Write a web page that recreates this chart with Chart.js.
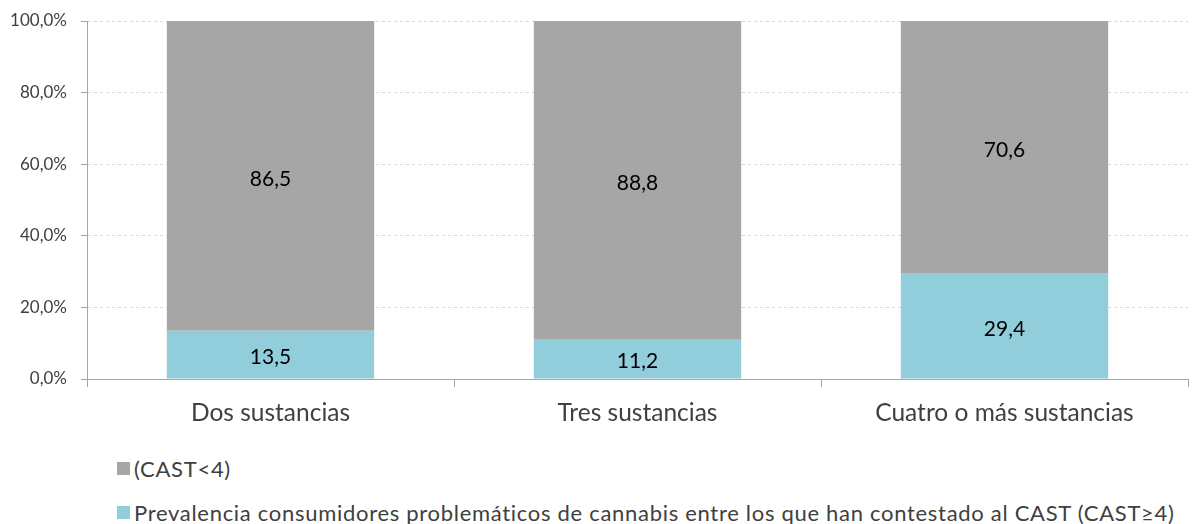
<!DOCTYPE html>
<html>
<head>
<meta charset="utf-8">
<script src="https://cdn.jsdelivr.net/npm/chart.js@4.4.1/dist/chart.umd.min.js"></script>
<style>
  html, body { margin: 0; padding: 0; background: #fff; }
  body { width: 1193px; height: 524px; overflow: hidden; font-family: Lato, sans-serif; }
  #wrap { position: relative; width: 1193px; height: 432px; }
  #legend { list-style: none; margin: 0; padding: 0; position: absolute; left: 117px; top: 455px; }
  #legend li { display: flex; align-items: center; height: 26px; margin-bottom: 18px; font-size: 22px; letter-spacing: 0.7px; color: #404040; white-space: nowrap; }
  #legend span.box { display: inline-block; width: 13px; height: 13px; margin-right: 4px; }
</style>
</head>
<body>
<div id="wrap"><canvas id="castChart"></canvas></div>
<ul id="legend"></ul>
<script>
// Categorías y valores (porcentajes)
const categorias = ['Dos sustancias', 'Tres sustancias', 'Cuatro o más sustancias'];
const problematicos = [13.5, 11.2, 29.4];   // CAST>=4
const noProblematicos = [86.5, 88.8, 70.6]; // CAST<4
const yTicks = [0, 20, 40, 60, 80, 100];

const serieProb = 'Prevalencia consumidores problemáticos de cannabis entre los que han contestado al CAST (CAST≥4)';
const serieNoProb = '(CAST<4)';

// Etiquetas de datos dentro de cada segmento
const dataLabels = {
  id: 'dataLabels',
  afterDatasetsDraw(chart) {
    const ctx = chart.ctx;
    ctx.save();
    ctx.font = '21px Lato';
    ctx.fillStyle = '#000';
    ctx.textAlign = 'center';
    ctx.textBaseline = 'middle';
    chart.data.datasets.forEach((ds, i) => {
      chart.getDatasetMeta(i).data.forEach((bar, j) => {
        const mid = (bar.y + bar.base) / 2;
        ctx.fillText(ds.data[j].toFixed(1).replace('.', ','), bar.x, mid + 3);
      });
    });
    ctx.restore();
  }
};

const ctx = document.getElementById('castChart').getContext('2d');
const chart = new Chart(ctx, {
  type: 'bar',
  data: {
    labels: categorias,
    datasets: [{
      label: serieProb,
      data: problematicos,
      backgroundColor: '#92cddc',
      categoryPercentage: 1,
      barPercentage: 0.565
    }, {
      label: serieNoProb,
      data: noProblematicos,
      backgroundColor: '#a6a6a6',
      categoryPercentage: 1,
      barPercentage: 0.565
    }]
  },
  options: {
    responsive: true,
    maintainAspectRatio: false,
    animation: false,
    layout: { padding: { top: 21, right: 5, left: 0, bottom: 0 } },
    plugins: {
      legend: { display: false },
      tooltip: { enabled: false }
    },
    scales: {
      x: {
        stacked: true,
        grid: {
          offset: true,
          drawOnChartArea: false,
          drawTicks: true,
          tickLength: 8,
          tickColor: '#a6a6a6'
        },
        border: { color: '#a6a6a6', width: 1 },
        ticks: { color: '#404040', font: { family: 'Lato', size: 24.5 }, padding: 11, maxRotation: 0 },
        afterFit: s => { s.height = 53; }
      },
      y: {
        stacked: true,
        min: 0,
        max: 100,
        afterBuildTicks: s => { s.ticks = yTicks.map(v => ({ value: v })); },
        grid: {
          color: '#d9d9d9',
          tickLength: 6,
          tickColor: '#a6a6a6',
          tickBorderDash: []
        },
        border: { color: '#a6a6a6', width: 1, dash: [3, 3] },
        ticks: {
          color: '#404040',
          font: { family: 'Lato', size: 17, lineHeight: 0.8 },
          padding: 14,
          callback: v => v.toFixed(1).replace('.', ',') + '%'
        },
        afterFit: s => { s.width = 87; }
      }
    }
  },
  plugins: [dataLabels]
});

// Leyenda: orden inverso (CAST<4 primero)
const legend = document.getElementById('legend');
chart.data.datasets.slice().reverse().forEach(ds => {
  const li = document.createElement('li');
  const box = document.createElement('span');
  box.className = 'box';
  box.style.background = ds.backgroundColor;
  li.appendChild(box);
  li.appendChild(document.createTextNode(ds.label));
  legend.appendChild(li);
});
</script>
</body>
</html>
